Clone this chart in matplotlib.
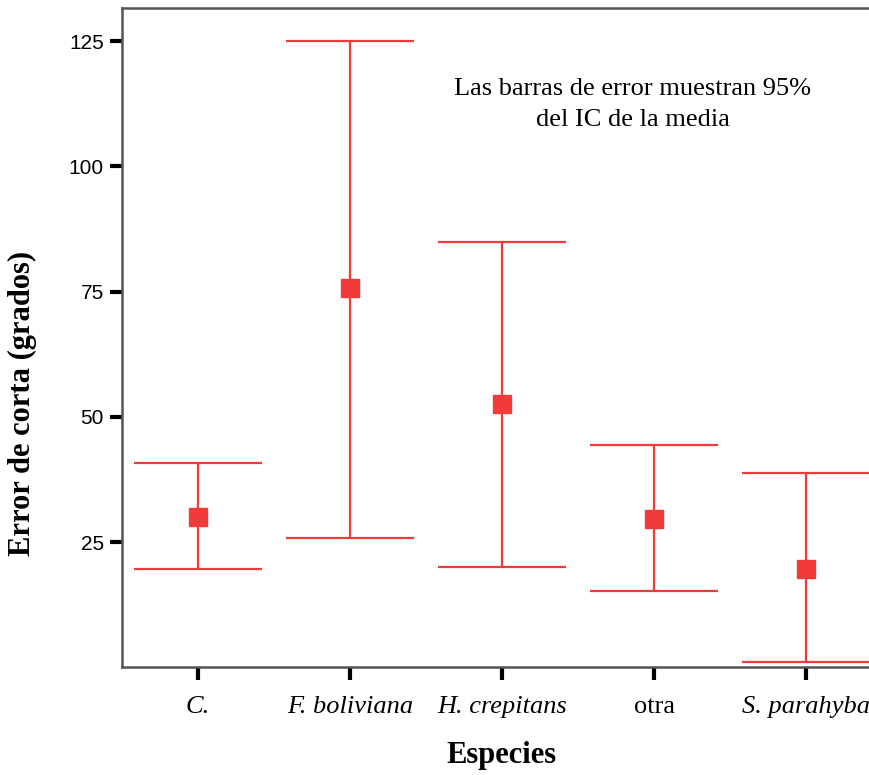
import numpy as np
import matplotlib.pyplot as plt
from matplotlib.transforms import ScaledTranslation

especies = ['C.', 'F. boliviana', 'H. crepitans', 'otra', 'S. parahyba']
italica = [True, True, True, False, True]
media = [30.1, 75.8, 52.5, 29.7, 19.6]
ic_sup = [40.8, 125.1, 85.0, 44.3, 38.7]
ic_inf = [19.6, 25.9, 20.0, 15.2, 1.0]

rojo = '#f23a3a'
serif = ['Liberation Serif', 'DejaVu Serif']

fig = plt.figure(figsize=(8.7, 7.75), dpi=100)
ax = fig.add_axes([0.140, 0.139, 0.874, 0.851])

x = np.arange(len(especies))
media = np.array(media)
err = [media - np.array(ic_inf), np.array(ic_sup) - media]
ax.errorbar(x, media, yerr=err, fmt='s', color=rojo, ecolor=rojo,
            markersize=13.5, elinewidth=1.6, capsize=46, capthick=1.6)

ax.set_xlim(-0.5, 4.5)
ax.set_ylim(0, 131.7)
ax.set_yticks([25, 50, 75, 100, 125])
ax.set_xticks(x)
ax.set_xticklabels(especies)
for lab, it in zip(ax.get_xticklabels(), italica):
    lab.set_family(serif)
    lab.set_fontsize(19)
    lab.set_style('italic' if it else 'normal')
# la ultima etiqueta queda algo a la izquierda, como en el original
ult = ax.get_xticklabels()[-1]
ult.set_transform(ult.get_transform() + ScaledTranslation(-0.06, 0, fig.dpi_scale_trans))

for lab in ax.get_yticklabels():
    lab.set_family(['Liberation Sans', 'DejaVu Sans'])
    lab.set_fontsize(15)

ax.tick_params(axis='both', direction='out', width=3, color='black')
ax.tick_params(axis='y', length=9, pad=4)
ax.tick_params(axis='x', length=9, pad=12)
for s in ax.spines.values():
    s.set_color('#555555')
    s.set_linewidth(1.8)

ax.set_xlabel('Especies', family=serif, fontsize=22, fontweight='bold', labelpad=16)
ax.set_ylabel('Error de corta (grados)', family=serif, fontsize=22, fontweight='bold')
ax.yaxis.set_label_coords(-0.112, 0.40)

ax.text(2.86, 112.4, 'Las barras de error muestran 95%\ndel IC de la media',
        ha='center', va='center', family=serif, fontsize=19, linespacing=1.5)

fig.savefig('out.png', dpi=100)
